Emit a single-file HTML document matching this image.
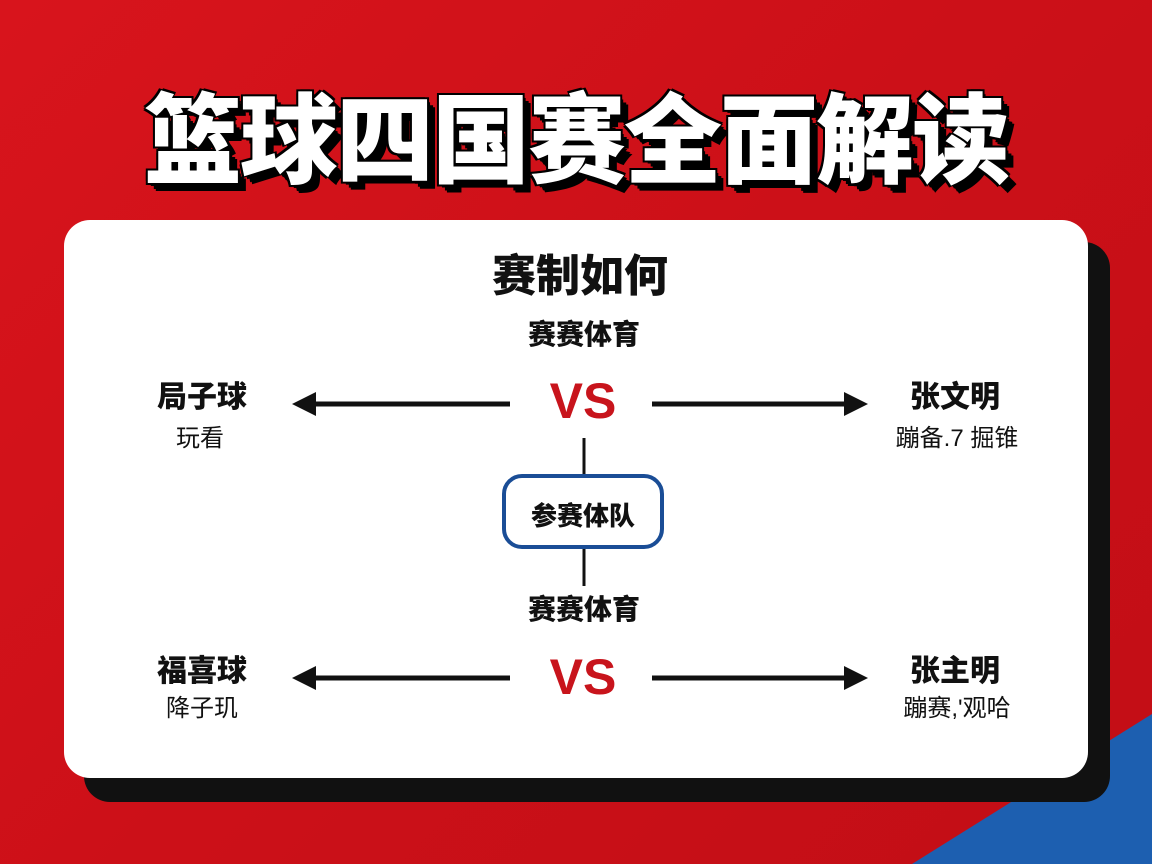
<!DOCTYPE html>
<html><head><meta charset="utf-8"><style>
html,body{margin:0;padding:0}
body{width:1152px;height:864px;overflow:hidden;position:relative;background:linear-gradient(135deg,#d8141c 0%,#cc1018 50%,#c20e16 100%);font-family:"Liberation Sans","Noto Sans CJK SC",sans-serif}
.blue{position:absolute;right:0;bottom:0;width:0;height:0;border-style:solid;border-width:0 0 150px 240px;border-color:transparent transparent #1d5fb0 transparent}
.title{position:absolute;left:0;width:1152px;top:62px;text-align:center;font-size:98px;font-weight:900;color:#fff;letter-spacing:-2px;
text-shadow:3px 3px 0 #000,6px 6px 0 #000,8px 8px 0 #000,-2px -2px 0 #000,2px -2px 0 #000,-2px 2px 0 #000;-webkit-text-stroke:2px #000;paint-order:stroke fill}
.shadow{position:absolute;left:84px;top:242px;width:1026px;height:560px;background:#111;border-radius:26px}
.card{position:absolute;left:64px;top:220px;width:1024px;height:558px;background:#fff;border-radius:26px}
.t{position:absolute;font-weight:900;color:#111;white-space:nowrap;transform:translateX(-50%)}
.s{position:absolute;color:#111;white-space:nowrap;transform:translateX(-50%);font-size:24px}
.vs{position:absolute;color:#c8141c;font-weight:900;font-size:50px;transform:translateX(-50%);font-family:"Liberation Sans",sans-serif}
</style></head><body>
<div class="blue"></div>
<div class="title">篮球四国赛全面解读</div>
<div class="shadow"></div>
<div class="card"></div>
<svg style="position:absolute;left:0;top:0" width="1152" height="864">
<g stroke="#111" stroke-width="5">
<line x1="310" y1="404" x2="510" y2="404"/><line x1="652" y1="404" x2="850" y2="404"/>
<line x1="310" y1="678" x2="510" y2="678"/><line x1="652" y1="678" x2="850" y2="678"/>
<line x1="584" y1="438" x2="584" y2="476" stroke-width="3"/><line x1="584" y1="548" x2="584" y2="586" stroke-width="3"/>
</g>
<g fill="#111">
<polygon points="292,404 316,392 316,416"/><polygon points="868,404 844,392 844,416"/>
<polygon points="292,678 316,666 316,690"/><polygon points="868,678 844,666 844,690"/>
</g>
<rect x="504" y="476" width="158" height="71" rx="18" fill="#fff" stroke="#1a4d96" stroke-width="4"/>
</svg>
<div class="t" style="left:580px;top:240px;font-size:44px">赛制如何</div>
<div class="t" style="left:584px;top:313px;font-size:28px">赛赛体育</div>
<div class="vs" style="left:583px;top:372px">VS</div>
<div class="t" style="left:202px;top:372px;font-size:30px">局子球</div>
<div class="s" style="left:200px;top:418px">玩看</div>
<div class="t" style="left:955px;top:372px;font-size:30px">张文明</div>
<div class="s" style="left:957px;top:418px">蹦备.7 掘锥</div>
<div class="t" style="left:583px;top:496px;font-size:26px">参赛体队</div>
<div class="t" style="left:584px;top:588px;font-size:28px">赛赛体育</div>
<div class="vs" style="left:583px;top:648px">VS</div>
<div class="t" style="left:202px;top:646px;font-size:30px">福喜球</div>
<div class="s" style="left:202px;top:688px">降子玑</div>
<div class="t" style="left:955px;top:646px;font-size:30px">张主明</div>
<div class="s" style="left:957px;top:688px">蹦赛,'观哈</div>
</body></html>
